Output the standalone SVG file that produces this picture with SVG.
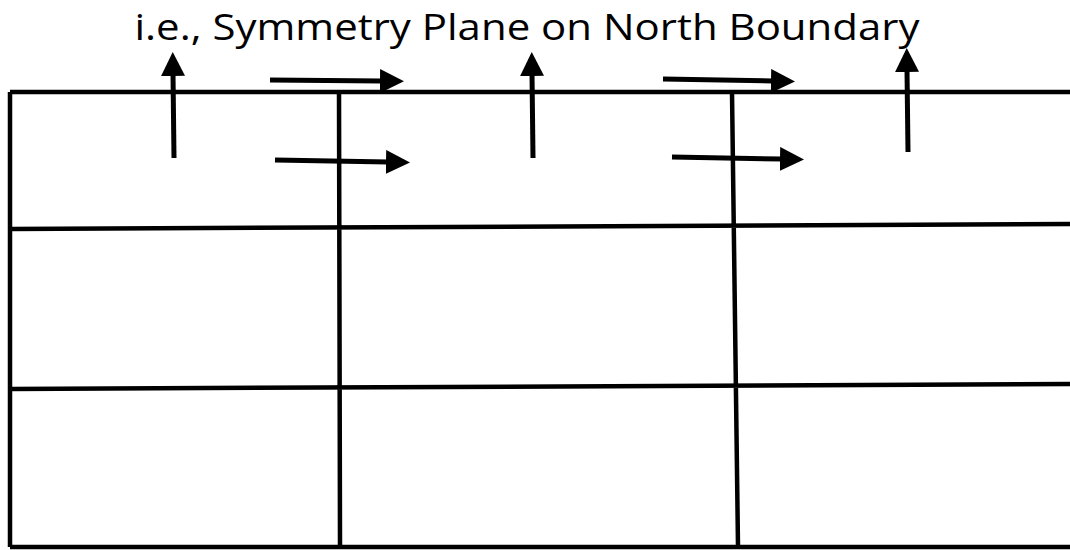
<svg xmlns="http://www.w3.org/2000/svg" width="1070" height="550" viewBox="0 0 1070 550">
<style>
.g{stroke:#000;stroke-width:4.5;fill:none}
.a{stroke:#000;stroke-width:5;fill:none}
.t{font-family:"Open Sans","Liberation Sans",sans-serif;font-size:36px;fill:#000}
</style>
<defs>
<marker id="ah" markerUnits="userSpaceOnUse" markerWidth="26" markerHeight="26" refX="2" refY="12" orient="auto">
<path d="M0,0 L24,12 L0,24 Z" fill="#000"/>
</marker>
</defs>
<rect width="1070" height="550" fill="#fff"/>
<g id="grid">
<path class="g" d="M10,92 L1070,92 M10,229 L1070,224 M10,389 L1070,384 M10,547 L1070,547 M10,92 L10,547 M339,92 L340,547 M732,92 L738,547"/>
</g>
<g id="label">
<text class="t" x="527" y="40" text-anchor="middle" textLength="785" lengthAdjust="spacingAndGlyphs">i.e., Symmetry Plane on North Boundary</text>
</g>
<g id="connectors">
<path class="a" d="M174,158 L173,74" marker-end="url(#ah)"/>
<path class="a" d="M270,80 L382,81" marker-end="url(#ah)"/>
<path class="a" d="M275,160 L388,162" marker-end="url(#ah)"/>
<path class="a" d="M533,158 L532,74" marker-end="url(#ah)"/>
<path class="a" d="M663,79 L773,81" marker-end="url(#ah)"/>
<path class="a" d="M672,157 L782,159" marker-end="url(#ah)"/>
<path class="a" d="M908,152 L907,70" marker-end="url(#ah)"/>
</g>
</svg>
